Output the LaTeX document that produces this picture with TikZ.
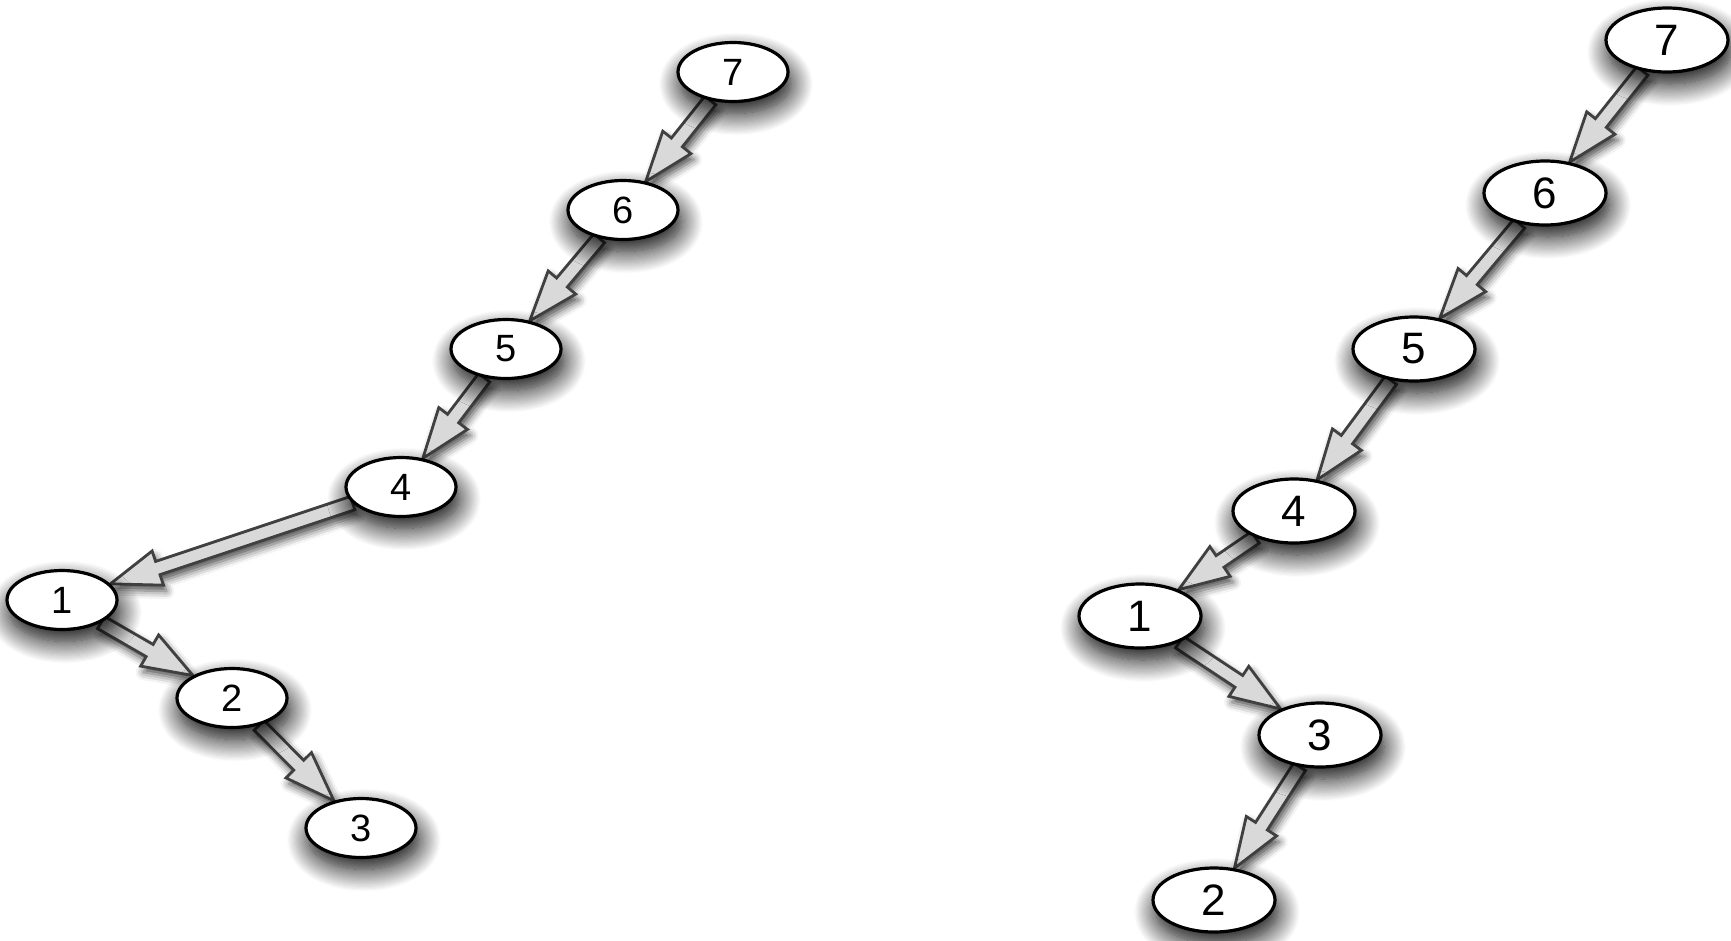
\documentclass[tikz,border=0pt]{standalone}
\usepackage{fontspec}
\setmainfont{Liberation Sans}
\usetikzlibrary{shapes.geometric,calc,shadows.blur}
\pgfdeclarelayer{bg}
\pgfsetlayers{bg,main}
\tikzset{
  nd/.style={ellipse, draw=black, line width=3.2pt, fill=white, minimum width=110pt, minimum height=59pt, inner sep=0pt, font=\fontsize{38}{40}\selectfont, blur shadow={shadow xshift=3pt, shadow yshift=-12pt, shadow blur radius=22pt, shadow blur steps=20, shadow opacity=100}},
  ndb/.style={nd, minimum width=122pt, minimum height=64pt, font=\fontsize{44}{46}\selectfont},
  barrow/.style={draw=black!75, fill=black!15, line width=2.8pt, line join=miter, blur shadow={shadow xshift=3pt, shadow yshift=-6pt, shadow blur radius=8pt, shadow opacity=70}},
}
\newcommand\blockarr[2]{%
  \path (#1) -- coordinate[pos=0] (s) coordinate[pos=1] (t) (#2);
  \coordinate (h) at ($(t)!50pt!(s)$);
  \filldraw[barrow] ($(s)!7pt!90:(t)$) -- ($(h)!7pt!-90:(s)$) -- ($(h)!18pt!-90:(s)$) -- (t) -- ($(h)!18pt!90:(s)$) -- ($(h)!7pt!90:(s)$) -- ($(s)!7pt!-90:(t)$) -- cycle;
}
\begin{document}
\begin{tikzpicture}[x=1pt,y=-1pt]
\useasboundingbox (0,0) rectangle (1731,940);
% left tree
\node[nd] (l7) at (733,72) {7};
\node[nd] (l6) at (623,210) {6};
\node[nd] (l5) at (506,349) {5};
\node[nd] (l4) at (401,487) {4};
\node[nd] (l1) at (62,600) {1};
\node[nd] (l2) at (232,698) {2};
\node[nd] (l3) at (361,828) {3};
% right tree
\node[ndb] (r7) at (1667,40) {7};
\node[ndb] (r6) at (1545,193) {6};
\node[ndb] (r5) at (1414,349) {5};
\node[ndb] (r4) at (1294,511) {4};
\node[ndb] (r1) at (1140,616) {1};
\node[ndb] (r3) at (1320,735) {3};
\node[ndb] (r2) at (1214,900) {2};
% arrows
\begin{pgfonlayer}{bg}
\blockarr{l7}{l6}
\blockarr{l6}{l5}
\blockarr{l5}{l4}
\blockarr{l4}{l1}
\blockarr{l1}{l2}
\blockarr{l2}{l3}
\blockarr{r7}{r6}
\blockarr{r6}{r5}
\blockarr{r5}{r4}
\blockarr{r4}{r1}
\blockarr{r1}{r3}
\blockarr{r3}{r2}
\end{pgfonlayer}
\end{tikzpicture}
\end{document}
